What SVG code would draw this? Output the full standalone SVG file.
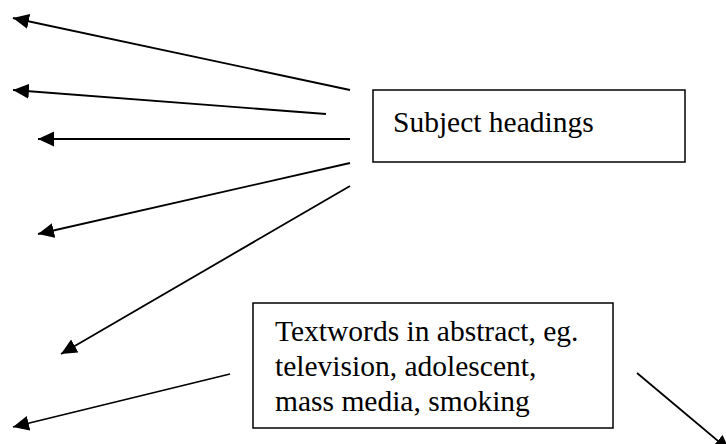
<svg xmlns="http://www.w3.org/2000/svg" width="726" height="444" viewBox="0 0 726 444">
<style>
.box{fill:#fff;stroke:#000;stroke-width:1.5}
.lbl{font-family:"Liberation Serif","Times New Roman",serif;font-size:29.5px;fill:#000}
.conn line{stroke:#000;stroke-width:1.8;marker-end:url(#ah)}
</style>
<defs>
<marker id="ah" markerUnits="userSpaceOnUse" markerWidth="17" markerHeight="16" refX="16" refY="7.5" orient="auto">
<path d="M0,0 L16,7.5 L0,15 z" fill="#000"/>
</marker>
</defs>
<rect width="726" height="444" fill="#fff"/>
<g id="connectors" class="conn">
<line x1="350" y1="90" x2="13" y2="18"/>
<line x1="326" y1="114" x2="13" y2="90"/>
<line x1="350" y1="139" x2="38" y2="139"/>
<line x1="350" y1="163" x2="38" y2="234"/>
<line x1="350" y1="186" x2="61" y2="354"/>
<line x1="230" y1="374" x2="13" y2="427"/>
<line x1="637" y1="373" x2="730" y2="451"/>
</g>
<g id="subject-headings">
<rect class="box" x="373" y="90" width="312" height="72"/>
<text class="lbl" x="393" y="132">Subject headings</text>
</g>
<g id="textwords">
<rect class="box" x="253" y="303" width="360" height="125"/>
<text class="lbl" x="275" y="341">Textwords in abstract, eg.</text>
<text class="lbl" x="275" y="376">television, adolescent,</text>
<text class="lbl" x="275" y="411">mass media, smoking</text>
</g>
</svg>
